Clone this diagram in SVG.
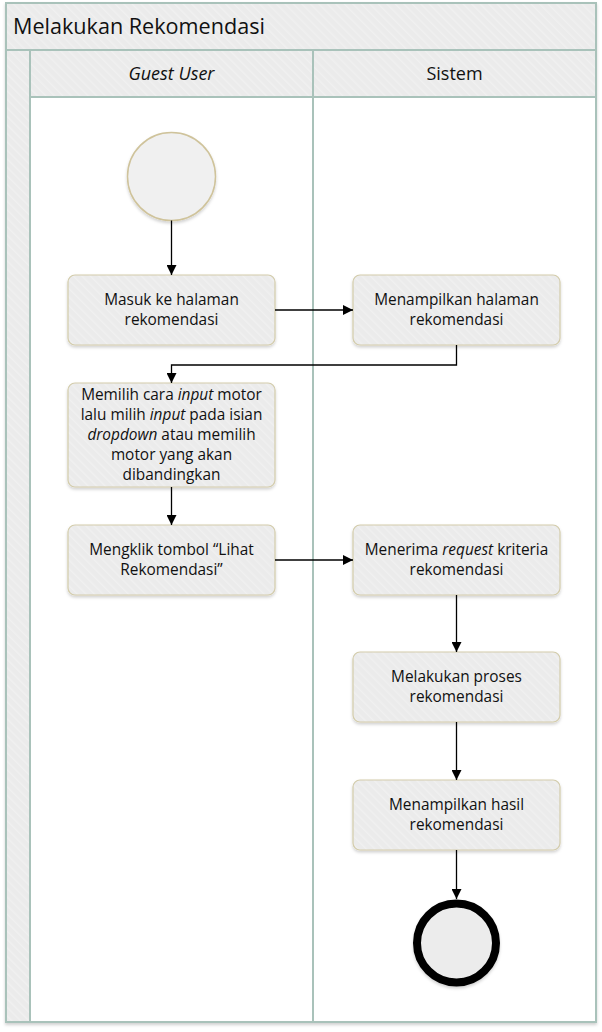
<svg xmlns="http://www.w3.org/2000/svg" width="602" height="1032" viewBox="0 0 602 1032">
<defs>
<pattern id="hatch" patternUnits="userSpaceOnUse" width="6" height="6" patternTransform="rotate(-45)">
<rect width="6" height="6" fill="#ebebeb"/>
<rect width="1.5" height="6" fill="#f0f0f0"/>
</pattern>
<filter id="sh" x="-10%" y="-10%" width="120%" height="130%">
<feDropShadow dx="0" dy="2" stdDeviation="1.5" flood-color="#000" flood-opacity="0.18"/>
</filter>
<marker id="arr" markerUnits="userSpaceOnUse" markerWidth="10" markerHeight="10" refX="10" refY="5" orient="auto">
<path d="M0,0 L10,5 L0,10 z" fill="#000"/>
</marker>
<style>
.frame{fill:url(#hatch);stroke:#a9c2ba;stroke-width:2}
.lane{fill:#fff;stroke:#a9c2ba;stroke-width:2}
.node{fill:url(#hatch);stroke:#d3ccab;stroke-width:1.2;filter:url(#sh)}
.t{font-family:"Open Sans","Noto Sans",sans-serif;font-size:15.4px;fill:#111;text-anchor:middle}
.h{font-family:"Open Sans","Noto Sans",sans-serif;font-size:18px;fill:#111;text-anchor:middle}
.ttl{font-family:"Open Sans","Noto Sans",sans-serif;font-size:21.6px;fill:#111}
.c{fill:none;stroke:#000;stroke-width:1.3;marker-end:url(#arr)}
</style>
</defs>

<g id="pool">
<rect x="6" y="3" width="590" height="1019" class="frame" filter="url(#sh)"/>
<line x1="6" y1="50" x2="596" y2="50" stroke="#a9c2ba" stroke-width="2"/>
<text x="13" y="34" class="ttl">Melakukan Rekomendasi</text>
</g>

<g id="lane-guest">
<rect x="30" y="50" width="283" height="972" class="lane"/>
<rect x="30" y="50" width="283" height="47" class="frame"/>
<text x="171.5" y="80" class="h" font-style="italic">Guest User</text>
</g>

<g id="lane-sistem">
<rect x="313" y="50" width="283" height="972" class="lane"/>
<rect x="313" y="50" width="283" height="47" class="frame"/>
<text x="454.5" y="80" class="h">Sistem</text>
</g>

<g id="start">
<circle cx="171.5" cy="176.5" r="44" fill="#f0f0f0" stroke="#cfc39b" stroke-width="1.5" filter="url(#sh)"/>
</g>

<g id="n1">
<rect x="68" y="275" width="207" height="70" rx="7" class="node"/>
<text class="t" x="171.5" y="305">Masuk ke halaman</text>
<text class="t" x="171.5" y="325">rekomendasi</text>
</g>

<g id="n2">
<rect x="353" y="275" width="207" height="70" rx="7" class="node"/>
<text class="t" x="456.5" y="305">Menampilkan halaman</text>
<text class="t" x="456.5" y="325">rekomendasi</text>
</g>

<g id="n3">
<rect x="68" y="383" width="207" height="104" rx="7" class="node"/>
<text class="t" x="171.5" y="400">Memilih cara <tspan font-style="italic">input</tspan> motor</text>
<text class="t" x="171.5" y="420">lalu milih <tspan font-style="italic">input</tspan> pada isian</text>
<text class="t" x="171.5" y="440"><tspan font-style="italic">dropdown</tspan> atau memilih</text>
<text class="t" x="171.5" y="460">motor yang akan</text>
<text class="t" x="171.5" y="480">dibandingkan</text>
</g>

<g id="n4">
<rect x="68" y="525" width="207" height="70" rx="7" class="node"/>
<text class="t" x="171.5" y="555">Mengklik tombol “Lihat</text>
<text class="t" x="171.5" y="575">Rekomendasi”</text>
</g>

<g id="n5">
<rect x="353" y="525" width="207" height="70" rx="7" class="node"/>
<text class="t" x="456.5" y="555">Menerima <tspan font-style="italic">request</tspan> kriteria</text>
<text class="t" x="456.5" y="575">rekomendasi</text>
</g>

<g id="n6">
<rect x="353" y="652" width="207" height="70" rx="7" class="node"/>
<text class="t" x="456.5" y="682">Melakukan proses</text>
<text class="t" x="456.5" y="702">rekomendasi</text>
</g>

<g id="n7">
<rect x="353" y="780" width="207" height="70" rx="7" class="node"/>
<text class="t" x="456.5" y="810">Menampilkan hasil</text>
<text class="t" x="456.5" y="830">rekomendasi</text>
</g>

<g id="end">
<circle cx="456.5" cy="943" r="39.5" fill="#ececec" stroke="#000" stroke-width="8" filter="url(#sh)"/>
</g>

<g id="connectors">
<path class="c" d="M171.5,220.5 L171.5,275"/>
<path class="c" d="M275,310 L353,310"/>
<path class="c" d="M456.5,345 L456.5,365 L171.5,365 L171.5,383"/>
<path class="c" d="M171.5,487 L171.5,525"/>
<path class="c" d="M275,560 L353,560"/>
<path class="c" d="M456.5,595 L456.5,652"/>
<path class="c" d="M456.5,722 L456.5,780"/>
<path class="c" d="M456.5,850 L456.5,899"/>
</g>
</svg>
